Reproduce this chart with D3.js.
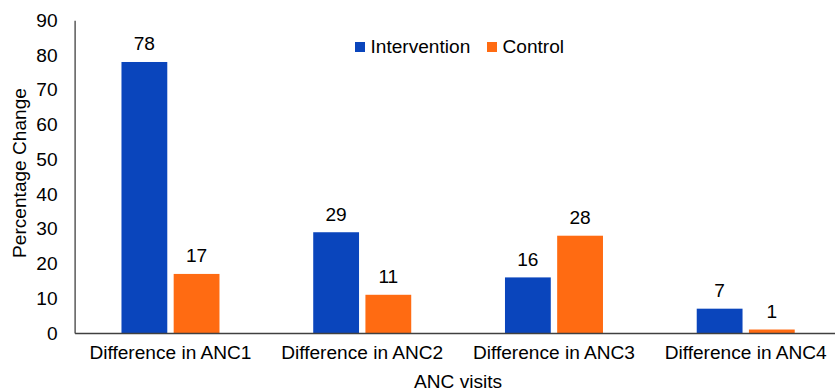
<!DOCTYPE html>
<html>
<head>
<meta charset="utf-8">
<script src="https://cdn.jsdelivr.net/npm/d3@7"></script>
<style>
html,body{margin:0;padding:0;background:#fff;}
svg{display:block;font-family:"Liberation Sans",Arial,sans-serif;}
</style>
</head>
<body>
<svg id="chart" width="835" height="392"></svg>
<script>
const categories = ["Difference in ANC1","Difference in ANC2","Difference in ANC3","Difference in ANC4"];
const seriesNames = ["Intervention","Control"];
const intervention = [78, 29, 16, 7];
const control = [17, 11, 28, 1];
const yTicks = [0,10,20,30,40,50,60,70,80,90];
const colors = ["#0A45BC","#FF6B12"];
const xTitle = "ANC visits";
const yTitle = "Percentage Change";

const svg = d3.select("#chart");
const mLeft = 74.6, mRight = 841.6, mTop = 20.3, mBottom = 333;
const fs = 19.1;

const x = d3.scaleBand().domain(categories).range([mLeft, mRight]).paddingInner(0).paddingOuter(0);
const inner = d3.scaleBand().domain(seriesNames).range([0, 98]).paddingInner(12/98).paddingOuter(0);
const y = d3.scaleLinear().domain([0, 90]).range([mBottom, mTop]);

const data = categories.map((c,i)=>({cat:c, vals:[intervention[i], control[i]]}));

// bars
const g = svg.append("g");
data.forEach(d=>{
  const bx = x(d.cat) + (x.bandwidth() - 98)/2;
  seriesNames.forEach((s,j)=>{
    const v = d.vals[j];
    g.append("rect")
      .attr("x", bx + inner(s))
      .attr("y", y(v))
      .attr("width", inner.bandwidth())
      .attr("height", y(0) - y(v))
      .attr("fill", colors[j]);
    g.append("text")
      .attr("x", bx + inner(s) + inner.bandwidth()/2)
      .attr("y", y(v) - 11.5)
      .attr("text-anchor","middle")
      .attr("font-size", fs)
      .attr("fill","#000")
      .text(v);
  });
});

// y axis
const yAxis = d3.axisLeft(y).tickValues(yTicks).tickSize(0).tickPadding(17);
const ya = svg.append("g").attr("transform",`translate(${mLeft},0)`).call(yAxis);
ya.select(".domain").attr("stroke","#404040").attr("stroke-width",1.3);
ya.selectAll("text").attr("font-size",fs).attr("font-family","Liberation Sans, Arial, sans-serif").attr("fill","#000");

// x axis
const xAxis = d3.axisBottom(x).tickSize(0).tickPadding(12);
const xa = svg.append("g").attr("transform",`translate(0,${mBottom})`).call(xAxis);
xa.select(".domain").attr("stroke","#404040").attr("stroke-width",1.3);
xa.selectAll("text").attr("font-size",fs).attr("font-family","Liberation Sans, Arial, sans-serif").attr("fill","#000");

// titles
svg.append("text").attr("x",(mLeft+mRight)/2).attr("y",388).attr("text-anchor","middle")
  .attr("font-size",fs).text(xTitle);
svg.append("text").attr("transform","translate(26,173) rotate(-90)").attr("text-anchor","middle")
  .attr("font-size",fs).text(yTitle);

// legend
const legX = [355, 487];
seriesNames.forEach((s,j)=>{
  svg.append("rect").attr("x",legX[j]).attr("y",42).attr("width",10).attr("height",10).attr("fill",colors[j]);
  svg.append("text").attr("x",legX[j]+15.5).attr("y",53).attr("font-size",fs).text(s);
});
</script>
</body>
</html>
